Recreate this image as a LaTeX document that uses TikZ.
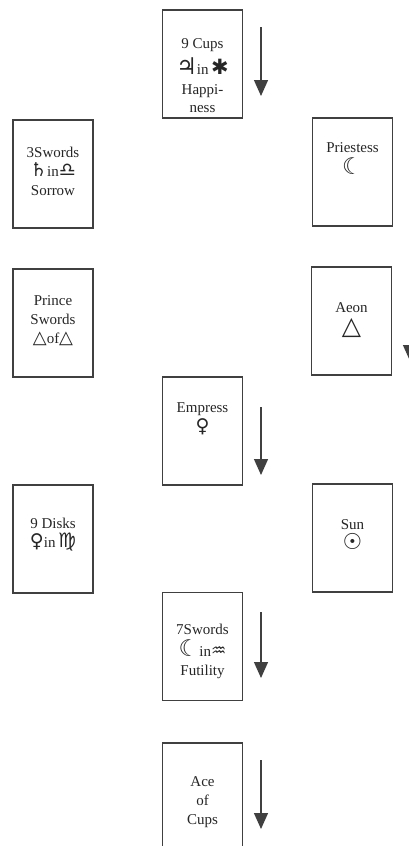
\documentclass[tikz,border=0pt]{standalone}
\usepackage{fontspec}
\setmainfont{Liberation Serif}
\newfontfamily\symfont{DejaVu Sans}
\usetikzlibrary{arrows.meta}
\newcommand\astro[2][19]{{\symfont\fontsize{#1}{18}\selectfont #2}}
\begin{document}
\begin{tikzpicture}[x=1pt,y=-1pt,
  card/.style={draw=black!75, line width=1.5pt, minimum width=80pt, minimum height=108pt, inner sep=0pt},
  lbl/.style={align=center, font=\fontsize{15}{19}\selectfont, text=black!85, inner sep=0pt},
  flow/.style={draw=black!75, line width=1.3pt, -{Triangle[width=14pt,length=16pt]}}]
\useasboundingbox[fill=white] (0,0) rectangle (409,846);

% cards
\node[card] (cups9)     at (202.5,64)  {};
\node[card] (swords3)   at (53,174)    {};
\node[card] (priestess) at (352.5,172) {};
\node[card] (prince)    at (53,323)    {};
\node[card] (aeon)      at (351.5,321) {};
\node[card] (empress)   at (202.5,431) {};
\node[card] (disks9)    at (53,539)    {};
\node[card] (sun)       at (352.5,538) {};
\node[card] (swords7)   at (202.5,646.5) {};
\node[card] (ace)       at (202.5,797) {};

% labels
\node[lbl] (tcups9)     at (202.5,76)  {9 Cups\\[5pt]\astro[23]{♃}in\,\astro[21]{✱}\\[1pt]Happi-\\[-1pt]ness};
\node[lbl] (tswords3)   at (53,171)    {3Swords\\\astro{♄}in\astro{♎}\\Sorrow};
\node[lbl] (tpriestess) at (352.5,159) {Priestess\\[3pt]\astro[23]{☾}};
\node[lbl] (tprince)    at (53,321)    {Prince\\Swords\\\astro[18]{△}of\astro[18]{△}};
\node[lbl] (taeon)      at (351.5,320) {Aeon\\[3pt]\astro[25]{△}};
\node[lbl] (tempress)   at (202.5,419) {Empress\\[1pt]\astro[19]{♀}};
\node[lbl] (tdisks9)    at (53,535)    {9 Disks\\\astro[19]{♀}in\,\astro[20]{♍}};
\node[lbl] (tsun)       at (352.5,535) {Sun\\[1pt]\astro[22]{☉}};
\node[lbl] (tswords7)   at (202.5,651) {7Swords\\[3pt]\astro[23]{☾}in\astro[17]{♒}\\Futility};
\node[lbl] (tace)       at (202.5,802) {Ace\\of\\Cups};

% arrows
\coordinate (a1s) at (261,27);   \coordinate (a1e) at (261,96);
\coordinate (a2s) at (410,285);  \coordinate (a2e) at (410,361);
\coordinate (a3s) at (261,407);  \coordinate (a3e) at (261,475);
\coordinate (a4s) at (261,612);  \coordinate (a4e) at (261,678);
\coordinate (a5s) at (261,760);  \coordinate (a5e) at (261,829);
\draw[flow] (a1s) -- (a1e);
\draw[flow] (a2s) -- (a2e);
\draw[flow] (a3s) -- (a3e);
\draw[flow] (a4s) -- (a4e);
\draw[flow] (a5s) -- (a5e);
\end{tikzpicture}
\end{document}
